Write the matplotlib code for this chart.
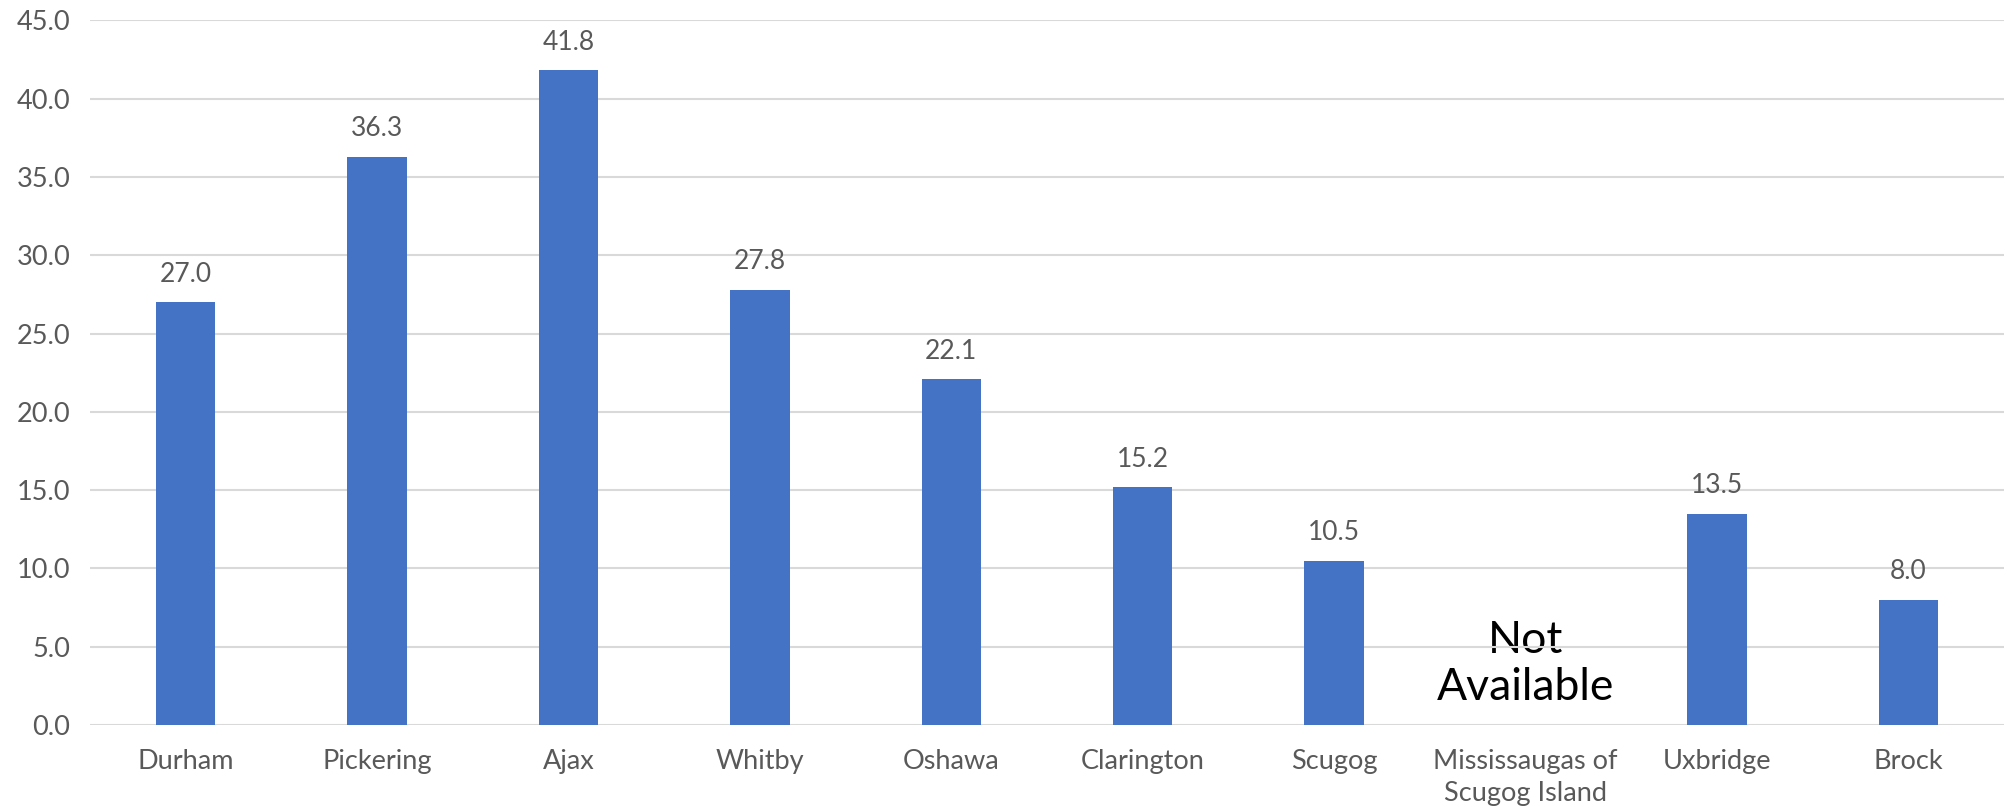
import matplotlib
matplotlib.use("Agg")
import matplotlib.pyplot as plt

categories = ["Durham", "Pickering", "Ajax", "Whitby", "Oshawa", "Clarington",
              "Scugog", "Mississaugas of\nScugog Island", "Uxbridge", "Brock"]
values = [27.0, 36.3, 41.8, 27.8, 22.1, 15.2, 10.5, None, 13.5, 8.0]
yticks = [0, 5, 10, 15, 20, 25, 30, 35, 40, 45]
na_text = "Not\nAvailable"

plt.rcParams['font.family'] = ['Lato', 'DejaVu Sans']
grey = "#595959"

fig = plt.figure(figsize=(20.12, 8.11), dpi=100)
ax = fig.add_axes([0.0447, 0.106, 0.9513, 0.869])

xs = list(range(len(categories)))
for x, v in zip(xs, values):
    if v is None:
        ax.text(x, 3.9, na_text, ha="center", va="center", fontsize=32,
                color="black", zorder=0, linespacing=1.2)
        continue
    ax.bar(x, v, width=0.31, color="#4472C4", zorder=3)
    ax.annotate(f"{v:.1f}", (x, v), xytext=(0, 11), textcoords="offset points",
                ha="center", va="bottom", fontsize=19, color=grey)

ax.set_xlim(-0.5, len(categories) - 0.5)
ax.set_ylim(0, 45)
ax.set_yticks(yticks)
ax.set_yticklabels([f"{t:.1f}" for t in yticks])
ax.set_xticks(xs)
ax.set_xticklabels(categories, linespacing=1.35)
ax.tick_params(axis="both", length=0, labelsize=19.5, labelcolor=grey)
ax.tick_params(axis="x", pad=17)
ax.tick_params(axis="y", pad=14)
ax.grid(axis="y", color="#D9D9D9", linewidth=1.5, zorder=1)
ax.set_axisbelow(False)
for s in ax.spines.values():
    s.set_visible(False)

fig.savefig("out.png", dpi=100)
